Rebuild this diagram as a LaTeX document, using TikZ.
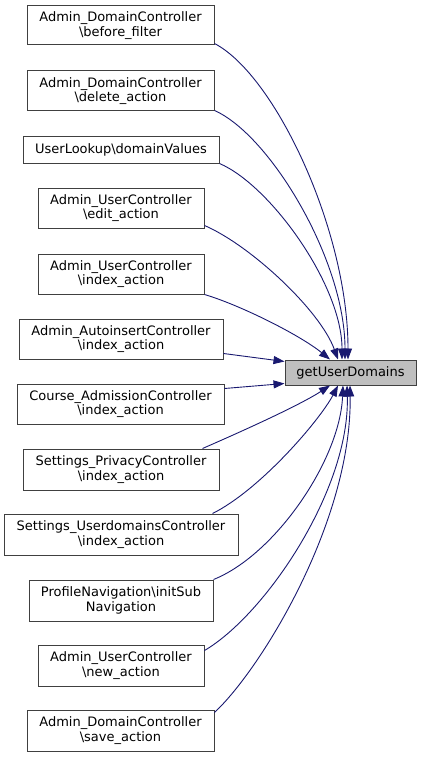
\documentclass[tikz,border=0pt]{standalone}
\usepackage{fontspec}
\setmainfont{DejaVu Sans}
\usetikzlibrary{arrows.meta}
\definecolor{edgeblue}{HTML}{191970}
\definecolor{boxgray}{HTML}{BFBFBF}
\begin{document}
\begin{tikzpicture}[x=1pt, y=-1pt, >={Triangle[length=11pt, width=8pt]},
	caller/.style={draw=black!75, line width=1pt, inner sep=0pt, align=center, font=\fontsize{13}{14.5}\selectfont},
	callee/.style={caller, fill=boxgray},
	call/.style={->, draw=edgeblue, line width=0.9pt}]
	\useasboundingbox (0,0) rectangle (421,757);
	% Callers on the left
	\foreach \n/\x/\y/\w/\h/\txt in {
		bf/120.5/25.5/187/39/{Admin\_DomainController\\\textbackslash before\_filter},
		del/120.5/91/187/40/{Admin\_DomainController\\\textbackslash delete\_action},
		dv/121/149.5/196/27/{UserLookup\textbackslash domainValues},
		edit/121/208/166/40/{Admin\_UserController\\\textbackslash edit\_action},
		uidx/121/274/166/40/{Admin\_UserController\\\textbackslash index\_action},
		auto/121/339/204/40/{Admin\_AutoinsertController\\\textbackslash index\_action},
		course/120.5/404/207/40/{Course\_AdmissionController\\\textbackslash index\_action},
		priv/121/469.5/196/41/{Settings\_PrivacyController\\\textbackslash index\_action},
		udom/121/534.5/234/41/{Settings\_UserdomainsController\\\textbackslash index\_action},
		prof/121/600.5/184/41/{ProfileNavigation\textbackslash initSub\\Navigation},
		new/121/665.5/166/41/{Admin\_UserController\\\textbackslash new\_action},
		save/120.5/730.5/187/41/{Admin\_DomainController\\\textbackslash save\_action}} {
		\node[caller, minimum width=\w, minimum height=\h] (\n) at (\x,\y) {\txt};
	}
	% The called function
	\node[callee, minimum width=131, minimum height=25] (tgt) at (350.5,372.5) {getUserDomains};
	% Calls from above
	\draw[call] ([yshift=2pt]bf.south east) .. controls (275,75) and (348,230) .. ([xshift=-2.5pt]tgt.north);
	\draw[call] ([yshift=1pt]del.south east) .. controls (270,135) and (345,260) .. ([xshift=-5.5pt]tgt.north);
	\draw[call] (dv.south east) .. controls (270,185) and (342,285) .. ([xshift=-8.5pt]tgt.north);
	\draw[call] ([yshift=3pt]edit.south east) .. controls (250,245) and (320,310) .. ([xshift=-12.5pt]tgt.north);
	\draw[call] (uidx.south east) .. controls (240,305) and (300,335) .. ([xshift=-20.5pt]tgt.north);
	% Calls from the side
	\draw[call] ([yshift=6pt]auto.south east) -- ([yshift=-2pt]tgt.north west);
	\draw[call] ([yshift=-5pt]course.north east) -- ([yshift=2pt]tgt.south west);
	% Calls from below
	\draw[call] ([xshift=-17pt]priv.north east) .. controls (245,430) and (300,405) .. ([xshift=-20.5pt]tgt.south);
	\draw[call] ([xshift=-26pt]udom.north east) .. controls (260,490) and (320,420) .. ([xshift=-12.5pt]tgt.south);
	\draw[call] (prof.north east) .. controls (275,555) and (340,460) .. ([xshift=-7.5pt]tgt.south);
	\draw[call] ([yshift=-6pt]new.north east) .. controls (265,615) and (350,490) .. ([xshift=-3.5pt]tgt.south);
	\draw[call] ([yshift=-3pt]save.north east) .. controls (262,668) and (352,520) .. ([xshift=-0.5pt]tgt.south);
\end{tikzpicture}
\end{document}
